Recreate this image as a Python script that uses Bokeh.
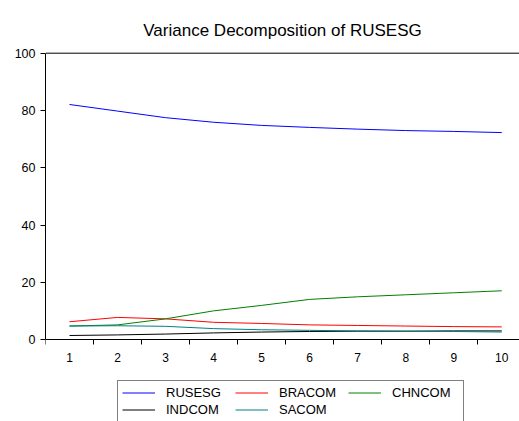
from bokeh.plotting import figure
from bokeh.models import Range1d, FixedTicker, Legend, LegendItem
from bokeh.embed import file_html
from bokeh.resources import INLINE

periods = [1, 2, 3, 4, 5, 6, 7, 8, 9, 10]
rusesg = [82.1, 79.8, 77.5, 75.9, 74.8, 74.1, 73.5, 73.0, 72.7, 72.3]
bracom = [6.3, 7.8, 7.3, 6.1, 5.7, 5.2, 5.0, 4.8, 4.6, 4.5]
chncom = [4.8, 5.2, 7.3, 10.1, 12.0, 14.1, 15.0, 15.7, 16.4, 17.1]
indcom = [1.5, 1.7, 2.0, 2.4, 2.7, 2.9, 3.0, 3.0, 3.1, 3.1]
sacom = [4.8, 4.9, 4.7, 3.9, 3.5, 3.3, 3.1, 3.0, 2.9, 2.7]
names = ["RUSESG", "BRACOM", "CHNCOM", "INDCOM", "SACOM"]
colors = ["#0000FF", "#FF0000", "#008000", "#000000", "#008080"]
y_ticks = [0, 20, 40, 60, 80, 100]
x_bounds = [0.5, 1.5, 2.5, 3.5, 4.5, 5.5, 6.5, 7.5, 8.5, 9.5, 10.5]

p = figure(width=519, height=421, output_backend="svg", toolbar_location=None,
           x_range=Range1d(0.5, 10.369), y_range=Range1d(-28.51, 100.59),
           min_border_left=45, min_border_right=0, min_border_top=51,
           min_border_bottom=0)

p.title.text = "Variance Decomposition of RUSESG"
p.title.align = "center"
p.title.vertical_align = "top"
p.title.text_font = "Liberation Sans"
p.title.text_font_size = "17px"
p.title.text_font_style = "normal"
p.title.text_color = "#000000"
p.title.text_line_height = 1.45
p.title.standoff = 20

p.grid.visible = False
p.outline_line_color = None
p.background_fill_color = "white"
p.border_fill_color = "white"

# top border of the plot area, drawn at the top tick value across the full x extent
p.line([x_bounds[0], x_bounds[-1]], [y_ticks[-1], y_ticks[-1]],
       line_color="#000000", line_width=1)

p.xaxis.ticker = FixedTicker(ticks=periods, minor_ticks=x_bounds)
p.xaxis.fixed_location = 0
p.xaxis.major_tick_out = 0
p.xaxis.major_tick_in = 0
p.xaxis.minor_tick_out = 5
p.xaxis.minor_tick_in = 0
p.xaxis.major_label_standoff = 8
p.yaxis.ticker = FixedTicker(ticks=y_ticks, minor_ticks=[])
p.yaxis.bounds = (0, 100)
p.yaxis.major_tick_out = 5
p.yaxis.major_tick_in = 0
p.yaxis.minor_tick_out = 0
p.yaxis.major_label_standoff = 5
for ax in (p.xaxis, p.yaxis):
    ax.axis_line_color = "#000000"
    ax.major_tick_line_color = "#000000"
    ax.minor_tick_line_color = "#000000"
    ax.major_label_text_font = "Liberation Sans"
    ax.major_label_text_color = "#000000"
p.xaxis.major_label_text_font_size = "12px"
p.yaxis.major_label_text_font_size = "12.5px"

series = [rusesg, bracom, chncom, indcom, sacom]
items = []
for name, col, vals in zip(names, colors, series):
    r = p.line(periods, vals, line_color=col, line_width=1)
    items.append(LegendItem(label=name, renderers=[r]))

legend = Legend(items=items, orientation="horizontal", ncols=3, location=(72, -1),
                border_line_color="#000000", border_line_width=1,
                label_text_font="Liberation Sans", label_text_font_size="13px",
                label_text_color="#000000",
                glyph_width=33, glyph_height=15, label_height=15,
                label_width=67, label_standoff=11, spacing=2,
                padding=4, margin=0, background_fill_color="white")
p.add_layout(legend)

open("out.html", "w").write(file_html(p, INLINE))
